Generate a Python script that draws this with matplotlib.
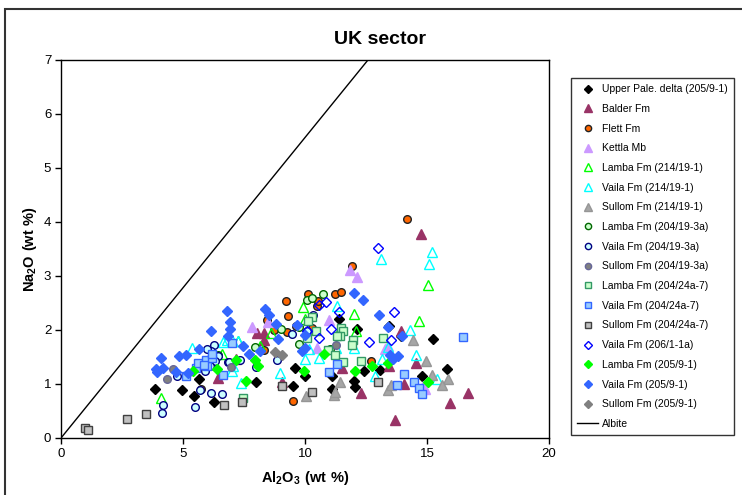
import matplotlib
matplotlib.use("Agg")
import matplotlib.pyplot as plt
from matplotlib.lines import Line2D
from matplotlib.patches import Rectangle

plt.rcParams['font.family'] = ['Liberation Sans', 'DejaVu Sans']
plt.rcParams['mathtext.fontset'] = 'custom'
plt.rcParams['mathtext.rm'] = 'Liberation Sans'
plt.rcParams['mathtext.bf'] = 'Liberation Sans:bold'

# Al2O3 (x) and Na2O (y), wt %
upper_pale_x = [3.85, 4.95, 5.45, 5.65, 6.25, 8.0, 9.6, 9.5, 10.0, 11.1, 11.12, 11.39, 12.14, 13.44,
                13.93, 15.26, 15.84, 14.78, 12.43, 13.07, 12.0, 12.05]
upper_pale_y = [0.9, 0.88, 0.78, 1.09, 0.67, 1.03, 1.3, 0.96, 1.14, 0.9, 1.14, 2.2, 2.01, 2.08,
                1.88, 1.84, 1.28, 1.14, 1.24, 1.26, 1.06, 0.94]

balder_x = [6.45, 7.16, 8.05, 8.33, 8.3, 9.04, 11.5, 12.3, 13.44, 13.93, 14.07, 14.54, 13.69, 14.75, 15.93, 16.68]
balder_y = [1.11, 1.46, 1.94, 1.94, 1.82, 1.03, 1.29, 0.84, 1.33, 1.98, 1.0, 1.38, 0.33, 3.78, 0.64, 0.83]

flett_x = [5.72, 9.5, 8.43, 8.74, 9.21, 9.32, 9.28, 8.3, 9.63, 10.14, 10.48, 10.55, 11.94, 11.23,
           11.48, 12.69, 14.2, 10.27]
flett_y = [0.91, 0.68, 2.19, 2.0, 2.54, 2.26, 1.97, 1.63, 2.08, 2.67, 2.44, 2.54, 3.19, 2.67,
           2.7, 1.43, 4.06, 2.03]

kettla_x = [7.84, 8.5, 11.0, 11.84, 12.14, 13.41, 13.28, 14.85, 14.9, 10.48]
kettla_y = [2.05, 2.15, 2.19, 3.11, 2.99, 1.71, 1.64, 0.96, 0.9, 1.66]

lamba_214_x = [4.1, 6.58, 7.27, 8.16, 8.6, 9.9, 10.0, 11.34, 12.0, 12.09, 14.67, 15.05]
lamba_214_y = [0.75, 1.55, 1.8, 1.7, 1.95, 2.43, 2.2, 1.94, 2.3, 1.99, 2.16, 2.83]

vaila_214_x = [5.38, 6.65, 6.79, 7.0, 7.27, 7.06, 7.0, 7.38, 8.98, 10.0, 10.18, 10.59, 11.3,
               13.1, 15.19, 15.1, 14.3, 14.54, 13.14, 13.41, 12.85, 15.42, 11.26, 12.02]
vaila_214_y = [1.66, 1.77, 1.81, 1.82, 1.79, 1.34, 1.24, 1.01, 1.2, 1.46, 1.64, 1.49, 2.44,
               3.31, 3.44, 3.22, 2.0, 1.53, 1.46, 1.68, 1.14, 1.09, 1.66, 1.66]

sullom_214_x = [10.04, 11.2, 11.23, 11.43, 13.41, 13.52, 14.42, 14.96, 15.19, 15.85, 15.63]
sullom_214_y = [0.78, 0.8, 0.86, 1.03, 0.89, 0.98, 1.82, 1.43, 1.17, 1.09, 0.98]

lamba_19_x = [10.72, 10.1, 9.0, 9.75, 7.95, 9.75, 6.42, 11.02, 10.3]
lamba_19_y = [2.67, 2.55, 2.02, 1.74, 1.68, 2.06, 1.53, 1.64, 2.6]

vaila_19_x = [4.18, 4.14, 5.5, 5.7, 6.13, 6.58, 4.77, 6.27, 6.15, 6.42, 6.31, 6.86, 6.1, 6.9,
              7.34, 7.99, 8.87, 9.45, 10.1, 10.34, 6.0, 5.9]
vaila_19_y = [0.62, 0.46, 0.57, 0.89, 0.84, 0.82, 1.14, 1.72, 1.61, 1.52, 1.43, 1.4, 1.33, 1.4,
              1.45, 1.32, 1.44, 1.93, 1.99, 2.28, 1.65, 1.25]

sullom_19_x = [4.36, 4.6, 6.95, 11.25]
sullom_19_y = [1.09, 1.27, 1.32, 1.73]

lamba_24_x = [7.47, 10.27, 10.14, 10.45, 10.1, 10.93, 11.46, 11.57, 11.43, 11.3, 11.98, 11.91,
              11.23, 11.57, 12.28, 13.21]
lamba_24_y = [0.75, 2.24, 2.16, 1.99, 1.85, 1.63, 2.03, 1.98, 1.89, 1.89, 1.82, 1.72,
              1.54, 1.4, 1.43, 1.85]

vaila_24_x = [5.11, 5.53, 5.6, 5.94, 6.0, 6.17, 6.62, 7.02, 6.17, 5.85, 10.98, 11.3, 14.06,
              13.76, 14.48, 14.69, 14.81, 16.49]
vaila_24_y = [1.14, 1.29, 1.38, 1.44, 1.33, 1.49, 1.16, 1.76, 1.56, 1.35, 1.22, 1.37, 1.18,
              0.99, 1.03, 0.93, 0.81, 1.87]

sullom_24_x = [1.0, 1.1, 2.7, 3.5, 6.7, 7.4, 9.04, 10.27, 13.0]
sullom_24_y = [0.19, 0.15, 0.36, 0.45, 0.62, 0.67, 0.96, 0.86, 1.03]

vaila_206_x = [13.0, 10.86, 10.57, 10.59, 11.41, 13.65, 11.05, 12.62, 13.51, 10.1]
vaila_206_y = [3.52, 2.51, 2.46, 1.86, 2.33, 2.33, 2.02, 1.77, 1.82, 1.99]

lamba_205_x = [5.42, 6.38, 7.17, 7.95, 8.09, 7.58, 9.96, 10.78, 12.05, 12.73, 13.41, 15.06]
lamba_205_y = [1.24, 1.27, 1.44, 1.44, 1.33, 1.06, 1.24, 1.55, 1.24, 1.33, 1.38, 1.04]

vaila_205_x = [3.89, 3.92, 4.17, 4.09, 4.71, 4.85, 5.11, 5.22, 5.67, 6.13, 6.82, 6.91, 6.91,
               6.86, 8.35, 8.51, 8.81, 9.66, 8.89, 7.7, 8.16, 7.46, 9.86, 9.98, 12.0, 12.39,
               13.03, 13.41, 13.99, 13.48, 13.8, 13.6, 10.0]
vaila_205_y = [1.27, 1.23, 1.29, 1.48, 1.23, 1.51, 1.53, 1.21, 1.65, 1.99, 2.35, 2.14, 2.02,
               1.89, 2.39, 2.28, 2.12, 2.1, 1.84, 1.55, 1.61, 1.71, 1.62, 1.91, 2.68, 2.55,
               2.27, 2.05, 1.89, 1.53, 1.52, 1.47, 1.66]

sullom_205_x = [8.77, 9.07]
sullom_205_y = [1.59, 1.54]

albite_x = [0, 12.58]
albite_y = [0, 7]

series = [
    ("Upper Pale. delta (205/9-1)", upper_pale_x, upper_pale_y, 'D', 5.2, 'black', 'black'),
    ("Balder Fm", balder_x, balder_y, '^', 6.5, '#993366', '#993366'),
    ("Flett Fm", flett_x, flett_y, 'o', 5.5, '#FF6600', '#222222'),
    ("Kettla Mb", kettla_x, kettla_y, '^', 6.5, '#CC99FF', '#CC99FF'),
    ("Lamba Fm (214/19-1)", lamba_214_x, lamba_214_y, '^', 6.5, 'none', '#00FF00'),
    ("Vaila Fm (214/19-1)", vaila_214_x, vaila_214_y, '^', 6.5, 'none', '#00FFFF'),
    ("Sullom Fm (214/19-1)", sullom_214_x, sullom_214_y, '^', 6.5, '#A6A6A6', '#969696'),
    ("Lamba Fm (204/19-3a)", lamba_19_x, lamba_19_y, 'o', 5.5, '#CCFFCC', '#006600'),
    ("Vaila Fm (204/19-3a)", vaila_19_x, vaila_19_y, 'o', 5.5, '#CCFFFF', '#000080'),
    ("Sullom Fm (204/19-3a)", sullom_19_x, sullom_19_y, 'o', 5.5, '#808080', '#666699'),
    ("Lamba Fm (204/24a-7)", lamba_24_x, lamba_24_y, 's', 5.5, '#CCFFCC', '#339966'),
    ("Vaila Fm (204/24a-7)", vaila_24_x, vaila_24_y, 's', 5.5, '#99CCFF', '#3366FF'),
    ("Sullom Fm (204/24a-7)", sullom_24_x, sullom_24_y, 's', 5.5, '#C0C0C0', '#404040'),
    ("Vaila Fm (206/1-1a)", vaila_206_x, vaila_206_y, 'D', 5.2, 'none', '#0000FF'),
    ("Lamba Fm (205/9-1)", lamba_205_x, lamba_205_y, 'D', 5.2, '#00FF00', '#00FF00'),
    ("Vaila Fm (205/9-1)", vaila_205_x, vaila_205_y, 'D', 5.2, '#3366FF', '#3366FF'),
    ("Sullom Fm (205/9-1)", sullom_205_x, sullom_205_y, 'D', 5.2, '#808080', '#808080'),
]

fig = plt.figure(figsize=(7.42, 4.95), dpi=100)
ax = fig.add_axes([61 / 742, 57 / 495, 488 / 742, 378 / 495])

handles = []
for label, xs, ys, mk, ms, fc, ec in series:
    ax.plot(xs, ys, linestyle='none', marker=mk, markersize=ms,
            markerfacecolor=fc, markeredgecolor=ec, markeredgewidth=1.0)
    handles.append(Line2D([], [], linestyle='none', marker=mk, markersize=ms - 1,
                          markerfacecolor=fc, markeredgecolor=ec, markeredgewidth=1.0, label=label))

ax.plot(albite_x, albite_y, color='black', linewidth=1)
handles.append(Line2D([], [], color='black', linewidth=1, label='Albite'))

ax.set_xlim(0, 20)
ax.set_ylim(0, 7)
ax.set_xticks([0, 5, 10, 15, 20])
ax.set_yticks(range(8))
ax.tick_params(direction='out', length=4, width=1, labelsize=9.5, pad=3)
for sp in ax.spines.values():
    sp.set_linewidth(1)

fig.text(30 / 742, 1 - 249 / 495, r'$\mathbf{Na_2O\ (wt\ \%)}$', rotation=90,
         ha='center', va='center', fontsize=10.5)
fig.text(305 / 742, 1 - 478 / 495, r'$\mathbf{Al_2O_3\ (wt\ \%)}$',
         ha='center', va='center', fontsize=10.5)
fig.text(380 / 742, 1 - 40 / 495, 'UK sector', ha='center', va='center',
         fontsize=14, fontweight='bold')

leg = fig.legend(handles=handles, loc='upper left', bbox_to_anchor=(571 / 742, 1 - 78 / 495),
                 bbox_transform=fig.transFigure, fontsize=7.5, frameon=True, fancybox=False,
                 borderaxespad=0, labelspacing=0.93, handlelength=2.0, handletextpad=0.35,
                 borderpad=0.6)
leg.get_frame().set_edgecolor('black')
leg.get_frame().set_linewidth(1)

# chart area border
fig.patches.append(Rectangle((5 / 742, -0.1), 1.2, 1.1 - 9 / 495, transform=fig.transFigure,
                             fill=False, edgecolor='#333333', linewidth=1.5))

fig.savefig('out.png', dpi=100)
